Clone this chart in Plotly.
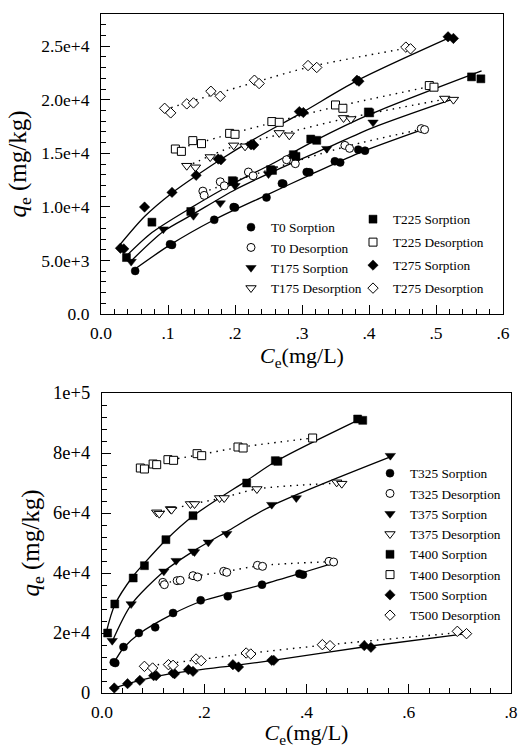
import plotly.graph_objects as go

# ---------------- Panel A (top) data ----------------
T0_S_x = [0.051, 0.103, 0.106, 0.169, 0.198, 0.200, 0.247, 0.270, 0.272, 0.307, 0.311, 0.349, 0.357, 0.384, 0.394]
T0_S_y = [4020, 6510, 6450, 8790, 9980, 9940, 10880, 12190, 12160, 13250, 13220, 14250, 14150, 15340, 15240]
T0_D_x = [0.152, 0.154, 0.178, 0.184, 0.220, 0.227, 0.277, 0.290, 0.364, 0.371, 0.478, 0.483]
T0_D_y = [11470, 11070, 12340, 11970, 13250, 12900, 14400, 14030, 15740, 15460, 17300, 17210]

T175_S_x = [0.045, 0.093, 0.138, 0.178, 0.200, 0.250, 0.337, 0.406]
T175_S_y = [4890, 7920, 9170, 10350, 11970, 13060, 15430, 17890]
T175_D_x = [0.128, 0.141, 0.163, 0.198, 0.215, 0.266, 0.281, 0.362, 0.373, 0.513, 0.526]
T175_D_y = [13840, 13690, 14650, 15740, 15650, 16900, 16680, 18300, 18200, 20110, 20010]

T225_S_x = [0.038, 0.076, 0.134, 0.196, 0.198, 0.253, 0.256, 0.287, 0.291, 0.313, 0.322, 0.399, 0.401, 0.553, 0.567]
T225_S_y = [5270, 8570, 9570, 12440, 12380, 13470, 13400, 14870, 14710, 16330, 16210, 18860, 18770, 22130, 21950]
T225_D_x = [0.111, 0.120, 0.137, 0.150, 0.192, 0.200, 0.255, 0.266, 0.350, 0.361, 0.490, 0.497]
T225_D_y = [15400, 15180, 16180, 15900, 16860, 16770, 17960, 17890, 19510, 19200, 21320, 21170]

T275_S_x = [0.029, 0.034, 0.065, 0.106, 0.142, 0.175, 0.179, 0.224, 0.228, 0.296, 0.302, 0.382, 0.385, 0.518, 0.526]
T275_S_y = [6140, 6080, 9980, 11350, 12940, 14460, 14400, 15800, 15770, 18890, 18800, 21820, 21730, 25870, 25720]
T275_D_x = [0.095, 0.104, 0.128, 0.138, 0.164, 0.178, 0.229, 0.236, 0.309, 0.322, 0.455, 0.462]
T275_D_y = [19200, 18770, 19610, 19700, 20790, 20320, 21820, 21510, 23190, 23010, 24910, 24750]

# fitted curves (solid = sorption, dotted = desorption)
T0_fit_x = [0.049, 0.103, 0.169, 0.247, 0.309, 0.384, 0.483]
T0_fit_y = [4120, 6450, 8800, 11100, 12900, 15000, 17270]
T175_fit_x = [0.044, 0.093, 0.137, 0.200, 0.250, 0.337, 0.406, 0.526]
T175_fit_y = [4890, 7700, 9300, 11600, 13100, 15500, 17400, 20080]
T225_fit_x = [0.036, 0.076, 0.134, 0.198, 0.255, 0.320, 0.400, 0.568]
T225_fit_y = [5300, 7600, 9900, 12200, 14000, 16200, 18600, 22700]
T275_fit_x = [0.026, 0.065, 0.106, 0.142, 0.178, 0.225, 0.300, 0.383, 0.526]
T275_fit_y = [6300, 9100, 11300, 12900, 14400, 16200, 18800, 21800, 25950]

T0_dfit_x = [0.152, 0.228, 0.367, 0.481]
T0_dfit_y = [11350, 13000, 15650, 17270]
T175_dfit_x = [0.128, 0.198, 0.272, 0.367, 0.516]
T175_dfit_y = [13780, 15650, 16830, 18270, 20080]
T225_dfit_x = [0.111, 0.193, 0.260, 0.354, 0.493]
T225_dfit_y = [15340, 16800, 17920, 19390, 21260]
T275_dfit_x = [0.095, 0.168, 0.232, 0.314, 0.459]
T275_dfit_y = [19080, 20480, 21670, 23100, 24840]

# ---------------- Panel B (bottom) data ----------------
T325_S_x = [0.023, 0.026, 0.042, 0.072, 0.104, 0.139, 0.193, 0.246, 0.313, 0.386, 0.393]
T325_S_y = [10220, 10000, 15330, 20000, 21890, 26670, 30890, 32220, 36110, 39780, 39440]
T325_D_x = [0.119, 0.122, 0.147, 0.153, 0.178, 0.187, 0.238, 0.244, 0.304, 0.314, 0.444, 0.453]
T325_D_y = [36890, 36110, 37440, 37560, 39110, 38670, 40560, 40220, 42560, 42220, 43890, 43670]

T375_S_x = [0.020, 0.057, 0.121, 0.145, 0.178, 0.181, 0.208, 0.244, 0.332, 0.380, 0.564]
T375_S_y = [17440, 29670, 40560, 44110, 47220, 47000, 50220, 53110, 62780, 65000, 79110]
T375_D_x = [0.107, 0.112, 0.134, 0.136, 0.173, 0.181, 0.230, 0.239, 0.303, 0.459, 0.469]
T375_D_y = [60220, 59780, 61330, 61110, 63000, 63000, 65000, 65000, 68000, 70220, 69780]

T400_S_x = [0.011, 0.025, 0.061, 0.083, 0.125, 0.178, 0.283, 0.339, 0.344, 0.500, 0.510]
T400_S_y = [20000, 29670, 38330, 42440, 51110, 59110, 70000, 77440, 77220, 91330, 90890]
T400_D_x = [0.075, 0.083, 0.100, 0.107, 0.129, 0.140, 0.186, 0.195, 0.266, 0.276, 0.412]
T400_D_y = [75000, 74670, 76330, 76110, 77780, 77560, 79780, 79110, 82000, 81670, 85000]

T500_S_x = [0.024, 0.050, 0.074, 0.101, 0.106, 0.139, 0.142, 0.169, 0.178, 0.256, 0.267, 0.332, 0.336, 0.513, 0.526]
T500_S_y = [1670, 3110, 4220, 5780, 5780, 6670, 6440, 7780, 7220, 9440, 8670, 10890, 10890, 15780, 15220]
T500_D_x = [0.083, 0.099, 0.130, 0.139, 0.184, 0.194, 0.282, 0.291, 0.431, 0.446, 0.695, 0.713]
T500_D_y = [8890, 8330, 9440, 9220, 11330, 10780, 13330, 13000, 16110, 15780, 20560, 19780]

T325_fit_x = [0.023, 0.042, 0.072, 0.139, 0.193, 0.313, 0.390, 0.453]
T325_fit_y = [10000, 15000, 19700, 26400, 30500, 36100, 40000, 43300]
T375_fit_x = [0.020, 0.057, 0.121, 0.178, 0.244, 0.332, 0.564]
T375_fit_y = [17200, 29400, 40500, 47200, 53800, 62400, 78700]
T400_fit_x = [0.008, 0.025, 0.061, 0.083, 0.125, 0.178, 0.283, 0.342, 0.505]
T400_fit_y = [20000, 29400, 39000, 43300, 51000, 59000, 70800, 77400, 91300]
T500_fit_x = [0.020, 0.074, 0.140, 0.257, 0.334, 0.518, 0.713]
T500_fit_y = [1450, 4200, 6600, 9100, 10900, 15500, 19800]

T325_dfit_x = [0.119, 0.150, 0.182, 0.241, 0.309, 0.450]
T325_dfit_y = [36700, 37450, 38900, 40450, 42450, 43800]
T375_dfit_x = [0.107, 0.135, 0.177, 0.235, 0.303, 0.464]
T375_dfit_y = [60000, 61200, 63000, 65000, 68000, 70000]
T400_dfit_x = [0.075, 0.104, 0.135, 0.190, 0.270, 0.412]
T400_dfit_y = [74900, 76200, 77700, 79400, 81900, 85000]
T500_dfit_x = [0.083, 0.189, 0.287, 0.438, 0.704]
T500_dfit_y = [8900, 11100, 13200, 16000, 20200]

# tick labels
A_xticks = [0, 0.1, 0.2, 0.3, 0.4, 0.5, 0.6]
A_xlabels = ["0.0", ".1", ".2", ".3", ".4", ".5", ".6"]
A_yticks = [0, 5000, 10000, 15000, 20000, 25000]
A_ylabels = ["0.0", "5.0e+3", "1.0e+4", "1.5e+4", "2.0e+4", "2.5e+4"]
B_xticks = [0, 0.2, 0.4, 0.6, 0.8]
B_xlabels = ["0.0", ".2", ".4", ".6", ".8"]
B_yticks = [0, 20000, 40000, 60000, 80000, 100000]
B_ylabels = ["0", "2e+4", "4e+4", "6e+4", "8e+4", "1e+5"]

FONT = "Liberation Serif"
fig = go.Figure()

def curve(x, y, xa, ya, dotted=False):
    fig.add_trace(go.Scatter(
        x=x, y=y, xaxis=xa, yaxis=ya, mode="lines", showlegend=False, hoverinfo="skip",
        line=dict(color="black", width=1.4 if dotted else 1.3, shape="spline", smoothing=0.8,
                  dash="1.5px,5px" if dotted else "solid")))

def pts(x, y, name, symbol, filled, xa, ya, legend):
    fig.add_trace(go.Scatter(
        x=x, y=y, xaxis=xa, yaxis=ya, mode="markers", name=name, legend=legend, legendgroup=name,
        marker=dict(symbol=symbol, size=8 if symbol != "triangle-down" else 9,
                    color="black" if filled else "white",
                    line=dict(color="black", width=1 if not filled else 0.5))))

# panel A curves
for fx, fy in [(T0_fit_x, T0_fit_y), (T175_fit_x, T175_fit_y), (T225_fit_x, T225_fit_y), (T275_fit_x, T275_fit_y)]:
    curve(fx, fy, "x", "y")
for fx, fy in [(T0_dfit_x, T0_dfit_y), (T175_dfit_x, T175_dfit_y), (T225_dfit_x, T225_dfit_y), (T275_dfit_x, T275_dfit_y)]:
    curve(fx, fy, "x", "y", dotted=True)
# panel B curves
for fx, fy in [(T325_fit_x, T325_fit_y), (T375_fit_x, T375_fit_y), (T400_fit_x, T400_fit_y), (T500_fit_x, T500_fit_y)]:
    curve(fx, fy, "x2", "y2")
for fx, fy in [(T325_dfit_x, T325_dfit_y), (T375_dfit_x, T375_dfit_y), (T400_dfit_x, T400_dfit_y), (T500_dfit_x, T500_dfit_y)]:
    curve(fx, fy, "x2", "y2", dotted=True)

# panel A points
pts(T0_S_x, T0_S_y, "T0 Sorption", "circle", True, "x", "y", "legend")
pts(T0_D_x, T0_D_y, "T0 Desorption", "circle", False, "x", "y", "legend")
pts(T175_S_x, T175_S_y, "T175 Sorption", "triangle-down", True, "x", "y", "legend")
pts(T175_D_x, T175_D_y, "T175 Desorption", "triangle-down", False, "x", "y", "legend")
pts(T225_S_x, T225_S_y, "T225 Sorption", "square", True, "x", "y", "legend2")
pts(T225_D_x, T225_D_y, "T225 Desorption", "square", False, "x", "y", "legend2")
pts(T275_S_x, T275_S_y, "T275 Sorption", "diamond", True, "x", "y", "legend2")
pts(T275_D_x, T275_D_y, "T275 Desorption", "diamond", False, "x", "y", "legend2")
# panel B points
pts(T325_S_x, T325_S_y, "T325 Sorption", "circle", True, "x2", "y2", "legend3")
pts(T325_D_x, T325_D_y, "T325 Desorption", "circle", False, "x2", "y2", "legend3")
pts(T375_S_x, T375_S_y, "T375 Sorption", "triangle-down", True, "x2", "y2", "legend3")
pts(T375_D_x, T375_D_y, "T375 Desorption", "triangle-down", False, "x2", "y2", "legend3")
pts(T400_S_x, T400_S_y, "T400 Sorption", "square", True, "x2", "y2", "legend3")
pts(T400_D_x, T400_D_y, "T400 Desorption", "square", False, "x2", "y2", "legend3")
pts(T500_S_x, T500_S_y, "T500 Sorption", "diamond", True, "x2", "y2", "legend3")
pts(T500_D_x, T500_D_y, "T500 Desorption", "diamond", False, "x2", "y2", "legend3")

W, H = 519, 748

def axis(domain, rng, tv, tt, minor_dtick, anchor, title, standoff, fsize, tsize, lstand):
    return dict(domain=domain, range=rng, anchor=anchor, tickmode="array", tickvals=tv, ticktext=tt,
                ticks="inside", ticklen=9, tickwidth=1, tickcolor="black",
                minor=dict(ticks="inside", ticklen=5, tickwidth=1, tickcolor="black", dtick=minor_dtick, tick0=0),
                showline=True, linecolor="black", linewidth=1.2, mirror=True,
                showgrid=False, zeroline=False, automargin=False,
                tickfont=dict(family=FONT, size=fsize, color="black"), ticklabelstandoff=lstand,
                title=dict(text=title, font=dict(family=FONT, size=tsize, color="black"), standoff=standoff))

xt = "<i>C</i><sub>e</sub>(mg/L)"
yt = "<i>q</i><sub>e</sub> (mg/kg)"
LEGFONT = dict(family=FONT, size=13.3, color="black")

fig.update_layout(
    width=W, height=H, margin=dict(l=0, r=0, t=0, b=0, pad=0),
    paper_bgcolor="white", plot_bgcolor="white",
    font=dict(family=FONT, color="black"),
    xaxis=axis([101 / W, 503 / W], [0, 0.6], A_xticks, A_xlabels, 0.02, "y", xt, 5, 17.5, 22, 3),
    yaxis=axis([1 - 314 / H, 1 - 14 / H], [0, 28000], A_yticks, A_ylabels, 1000, "x", yt, 7, 17.5, 25, 7),
    xaxis2=axis([102 / W, 511 / W], [0, 0.8], B_xticks, B_xlabels, 0.04, "y2", xt, 5, 17.5, 22, 3),
    yaxis2=axis([1 - 693 / H, 1 - 393 / H], [0, 100000], B_yticks, B_ylabels, 4000, "x2", yt, 6, 18.5, 25, 7),
    legend=dict(x=231 / W, y=1 - 212 / H, xanchor="left", yanchor="top", bgcolor="rgba(0,0,0,0)",
                font=LEGFONT, tracegroupgap=0),
    legend2=dict(x=353 / W, y=1 - 204 / H, xanchor="left", yanchor="top", bgcolor="rgba(0,0,0,0)",
                 font=LEGFONT, tracegroupgap=2.7),
    legend3=dict(x=370 / W, y=1 - 458 / H, xanchor="left", yanchor="top", bgcolor="rgba(0,0,0,0)",
                 font=LEGFONT, tracegroupgap=0),
)

fig.write_html("out.html", config={"displayModeBar": False},
               post_script="document.body.style.margin='0';document.body.style.overflow='hidden';")
